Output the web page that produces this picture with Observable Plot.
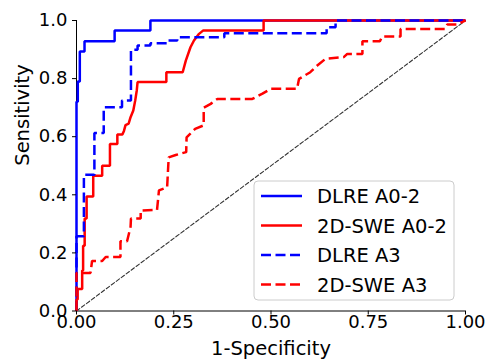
<!DOCTYPE html>
<html>
<head>
<meta charset="utf-8">
<script src="https://cdn.jsdelivr.net/npm/d3@7"></script>
<script src="https://cdn.jsdelivr.net/npm/@observablehq/plot@0.6"></script>
<style>
  html, body { margin: 0; padding: 0; background: white; }
  svg { display: block; }
</style>
</head>
<body>
<div id="chart"></div>
<script>
const seriesNames = ["DLRE A0-2", "2D-SWE A0-2", "DLRE A3", "2D-SWE A3"];
const seriesColors = ["#0000ff", "#ff0000", "#0000ff", "#ff0000"];
const seriesDashed = [false, false, true, true];

const dlreA02_x = [0,0,0.0033,0.0033,0.0085,0.0085,0.0206,0.0206,0.098,0.098,0.19,0.19,1];
const dlreA02_y = [0,0.72,0.72,0.79,0.79,0.893,0.893,0.929,0.929,0.966,0.966,1,1];

const sweA02_x = [0,0,0.003,0.003,0.0146,0.0146,0.017,0.017,0.021,0.021,0.026,0.026,0.043,0.043,0.066,0.066,0.086,0.086,0.105,0.105,0.118,0.122,0.126,0.134,0.139,0.146,0.151,0.155,0.157,0.231,0.231,0.273,0.281,0.293,0.302,0.315,0.326,0.481,0.481,1];
const sweA02_y = [0,0.04,0.04,0.076,0.076,0.139,0.139,0.225,0.225,0.318,0.318,0.394,0.394,0.466,0.466,0.5,0.5,0.575,0.575,0.608,0.608,0.62,0.64,0.645,0.667,0.69,0.725,0.76,0.788,0.788,0.822,0.822,0.862,0.908,0.931,0.954,0.966,0.966,1,1];

const dlreA3_x = [0,0,0.019,0.019,0.046,0.046,0.07,0.07,0.117,0.117,0.14,0.14,0.157,0.157,0.19,0.19,0.233,0.233,0.259,0.259,0.38,0.38,0.643,0.643,0.666,0.666,1];
const dlreA3_y = [0,0.257,0.257,0.469,0.469,0.613,0.613,0.701,0.701,0.725,0.725,0.899,0.899,0.914,0.914,0.922,0.922,0.931,0.931,0.942,0.942,0.956,0.956,0.977,0.977,1,1];

const sweA3_x = [0,0,0.036,0.04,0.066,0.075,0.113,0.113,0.13,0.139,0.14,0.165,0.165,0.207,0.212,0.233,0.237,0.255,0.282,0.283,0.305,0.327,0.327,0.345,0.362,0.452,0.478,0.50,0.567,0.572,0.601,0.619,0.64,0.687,0.696,0.735,0.735,0.78,0.786,0.833,0.833,0.948,0.953,0.979,1];
const sweA3_y = [0,0.131,0.131,0.172,0.172,0.186,0.186,0.24,0.24,0.29,0.318,0.318,0.346,0.348,0.415,0.426,0.529,0.537,0.547,0.598,0.627,0.639,0.70,0.713,0.73,0.73,0.748,0.765,0.765,0.799,0.822,0.845,0.868,0.874,0.885,0.885,0.929,0.929,0.945,0.945,0.971,0.971,0.986,0.986,1];

const xTicks = [0, 0.25, 0.5, 0.75, 1];
const yTicks = [0, 0.2, 0.4, 0.6, 0.8, 1];
const xLabel = "1-Specificity";
const yLabel = "Sensitivity";

const seriesXY = [[dlreA02_x, dlreA02_y],[sweA02_x, sweA02_y],[dlreA3_x, dlreA3_y],[sweA3_x, sweA3_y]];
const toRows = (xs, ys) => xs.map((x, i) => ({x, y: ys[i]}));

const lineMarks = seriesXY.map(([xs, ys], i) =>
  Plot.line(toRows(xs, ys), {
    x: "x", y: "y",
    stroke: seriesColors[i],
    strokeWidth: 2.5,
    strokeDasharray: seriesDashed[i] ? "10,4.5" : null,
    strokeLinejoin: "miter",
    strokeLinecap: "butt"
  })
);

const chart = Plot.plot({
  width: 487,
  height: 360,
  marginLeft: 76,
  marginRight: 22,
  marginTop: 20,
  marginBottom: 49.5,
  x: {domain: [0, 1]},
  y: {domain: [0, 1]},
  style: {fontFamily: "DejaVu Sans", background: "white", color: "black"},
  marks: [
    Plot.ruleX([0], {stroke: "black", strokeWidth: 1}),
    Plot.ruleY([0], {stroke: "black", strokeWidth: 1}),
    Plot.line([{x: 0, y: 0}, {x: 1, y: 1}], {x: "x", y: "y", stroke: "#333", strokeWidth: 1.1, strokeDasharray: "4,2.2"}),
    ...lineMarks,
    Plot.axisX({ticks: xTicks, tickFormat: d3.format(".2f"), tickSize: 4, tickPadding: 0, fontSize: 18, label: null, stroke: "black"}),
    Plot.axisY({ticks: yTicks, tickFormat: d3.format(".1f"), tickSize: 4, tickPadding: 5, fontSize: 18, label: null, stroke: "black"}),
    Plot.text([xLabel], {frameAnchor: "bottom", dy: 37.5, fontSize: 19.5, lineAnchor: "middle", fill: "black"}),
    Plot.text([yLabel], {frameAnchor: "left", dx: -53.5, rotate: -90, fontSize: 19.5, lineAnchor: "middle", fill: "black"})
  ]
});

document.getElementById("chart").appendChild(chart);

// legend box
const svg = d3.select(chart);
const lg = svg.append("g").attr("font-family", "DejaVu Sans").attr("text-anchor", "start");
lg.append("rect")
  .attr("x", 254).attr("y", 181).attr("width", 200).attr("height", 119)
  .attr("rx", 4).attr("fill", "white").attr("fill-opacity", 0.8)
  .attr("stroke", "#cccccc").attr("stroke-width", 1);
seriesNames.forEach((name, i) => {
  const yy = 196 + i * 29.5;
  lg.append("line")
    .attr("x1", 261).attr("x2", 302).attr("y1", yy).attr("y2", yy)
    .attr("stroke", seriesColors[i]).attr("stroke-width", 2.5)
    .attr("stroke-dasharray", seriesDashed[i] ? "10,4.5" : null);
  lg.append("text")
    .attr("x", 317).attr("y", yy).attr("dy", "0.36em")
    .attr("text-anchor", "start")
    .attr("font-size", 19.5).attr("fill", "black")
    .text(name);
});
</script>
</body>
</html>
